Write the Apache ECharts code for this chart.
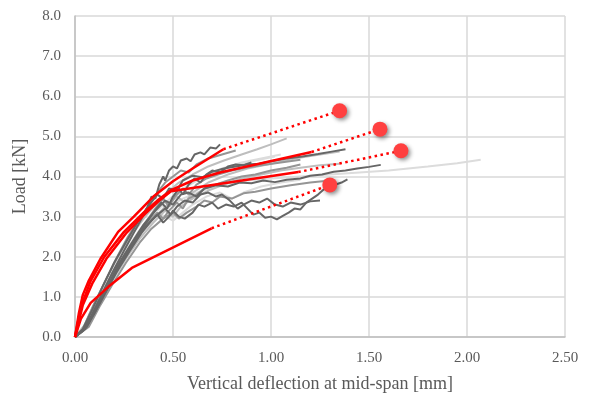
<!DOCTYPE html>
<html>
<head>
<meta charset="utf-8">
<script src="https://cdn.jsdelivr.net/npm/echarts@6/dist/echarts.min.js"></script>
<style>html,body{margin:0;padding:0;background:#fff;}#c{width:594px;height:401px;}</style>
</head>
<body>
<div id="c"></div>
<script>
// ---- Data (deflection [mm], load [kN]) ----
const xTicks = [0, 0.5, 1.0, 1.5, 2.0, 2.5];
const yTicks = [0, 1, 2, 3, 4, 5, 6, 7, 8];

// Experimental curves (grey)
const expDark1 = [[0,0],[0.04,0.15],[0.08,0.5],[0.13,1.0],[0.19,1.6],[0.25,2.15],[0.3,2.6],[0.34,2.95],[0.37,3.25],[0.39,3.5],[0.41,3.45],[0.43,3.8],[0.45,4.0],[0.46,3.9],[0.48,4.15],[0.5,4.25],[0.52,4.2],[0.54,4.4],[0.57,4.45],[0.59,4.38],[0.61,4.55],[0.64,4.6],[0.66,4.55],[0.69,4.72],[0.72,4.7],[0.74,4.8]];
const expDark2 = [[0,0],[0.05,0.2],[0.1,0.6],[0.15,1.05],[0.21,1.6],[0.28,2.15],[0.34,2.6],[0.39,2.9],[0.42,3.05],[0.45,2.85],[0.48,3.0],[0.5,3.15],[0.53,3.0],[0.56,2.95],[0.6,3.1],[0.63,3.3],[0.66,3.25],[0.7,3.35],[0.73,3.2],[0.77,3.3],[0.81,3.25],[0.85,3.35],[0.88,3.2],[0.91,3.05],[0.94,3.1],[0.97,2.97],[1.0,3.0],[1.03,2.93],[1.06,3.02],[1.09,3.1],[1.12,3.2],[1.15,3.18],[1.18,3.35],[1.21,3.45],[1.24,3.55],[1.27,3.68],[1.3,3.72],[1.33,3.8],[1.36,3.85],[1.39,3.93]];
const expDark3 = [[0,0],[0.06,0.25],[0.11,0.7],[0.17,1.25],[0.23,1.8],[0.3,2.35],[0.36,2.75],[0.41,3.0],[0.46,3.2],[0.49,3.05],[0.52,3.25],[0.56,3.4],[0.6,3.35],[0.64,3.55],[0.68,3.6],[0.72,3.5],[0.75,3.55],[0.79,3.4],[0.83,3.2],[0.86,3.3],[0.9,3.4],[0.94,3.35],[0.98,3.45],[1.02,3.3],[1.06,3.25],[1.1,3.35],[1.15,3.3],[1.2,3.38],[1.25,3.4]];
const expDark4 = [[0,0],[0.05,0.2],[0.1,0.65],[0.16,1.2],[0.22,1.8],[0.29,2.35],[0.35,2.8],[0.41,3.15],[0.46,3.4],[0.5,3.3],[0.54,3.55],[0.58,3.6],[0.62,3.5],[0.66,3.7],[0.72,3.78],[0.78,3.75],[0.84,3.85],[0.9,3.83],[0.96,3.9],[1.02,3.86],[1.08,3.92],[1.15,3.95],[1.2,4.02],[1.26,4.05],[1.32,4.12],[1.38,4.15],[1.44,4.2],[1.5,4.24],[1.56,4.29]];
const expDark5 = [[0,0],[0.04,0.2],[0.09,0.7],[0.14,1.25],[0.2,1.85],[0.27,2.45],[0.33,2.95],[0.38,3.3],[0.42,3.55],[0.45,3.45],[0.48,3.7],[0.52,3.65],[0.55,3.9],[0.6,4.02],[0.65,3.98],[0.7,4.12],[0.76,4.2],[0.82,4.25],[0.88,4.3],[0.94,4.32],[1.0,4.38],[1.08,4.45],[1.16,4.5],[1.24,4.56],[1.31,4.62],[1.38,4.68]];
const expDark6 = [[0,0],[0.05,0.2],[0.1,0.65],[0.16,1.2],[0.22,1.75],[0.29,2.3],[0.35,2.75],[0.4,3.1],[0.44,3.35],[0.47,3.2],[0.5,3.5],[0.53,3.7],[0.55,3.55],[0.58,3.8],[0.61,3.95],[0.64,3.85],[0.67,4.05],[0.7,4.15],[0.74,4.1],[0.78,4.25],[0.82,4.3],[0.86,4.28],[0.9,4.35]];
const expMid1 = [[0,0],[0.06,0.25],[0.12,0.8],[0.18,1.35],[0.25,1.95],[0.32,2.5],[0.38,2.9],[0.42,3.1],[0.45,2.95],[0.48,3.15],[0.52,3.35],[0.55,3.2],[0.58,3.45],[0.62,3.55],[0.66,3.7],[0.72,3.8],[0.78,3.9],[0.85,4.0],[0.92,4.05],[1.0,4.15],[1.08,4.22],[1.15,4.3]];
const expMid2 = [[0,0],[0.05,0.2],[0.11,0.75],[0.17,1.3],[0.23,1.85],[0.3,2.4],[0.36,2.85],[0.41,3.2],[0.45,3.45],[0.48,3.25],[0.51,3.5],[0.55,3.7],[0.58,3.55],[0.62,3.8],[0.67,3.95],[0.73,4.05],[0.8,4.15],[0.87,4.22],[0.95,4.28],[1.05,4.35],[1.15,4.42]];
const expMid3 = [[0,0],[0.07,0.25],[0.13,0.8],[0.19,1.3],[0.26,1.85],[0.33,2.35],[0.39,2.7],[0.45,2.95],[0.5,3.1],[0.53,2.95],[0.57,3.1],[0.62,3.25],[0.66,3.4],[0.7,3.35],[0.74,3.5],[0.8,3.45],[0.86,3.58],[0.92,3.62],[1.0,3.7],[1.1,3.78],[1.2,3.85],[1.3,3.9]];
const expMid4 = [[0,0],[0.04,0.2],[0.09,0.75],[0.15,1.35],[0.21,1.95],[0.27,2.5],[0.33,2.95],[0.38,3.3],[0.42,3.6],[0.46,3.85],[0.5,4.0],[0.54,4.15],[0.58,4.1],[0.62,4.3],[0.68,4.45],[0.75,4.55],[0.82,4.65]];
const expLight1 = [[0,0],[0.05,0.3],[0.1,0.85],[0.16,1.45],[0.22,2.0],[0.29,2.55],[0.35,2.95],[0.41,3.3],[0.47,3.6],[0.53,3.85],[0.6,4.05],[0.68,4.25],[0.76,4.4],[0.85,4.55],[0.93,4.68],[1.0,4.8],[1.08,4.95]];
const expLight2 = [[0,0],[0.06,0.25],[0.12,0.8],[0.19,1.4],[0.26,1.95],[0.33,2.45],[0.4,2.85],[0.46,3.15],[0.5,3.0],[0.54,3.25],[0.6,3.45],[0.68,3.65],[0.76,3.8],[0.85,3.95],[0.95,4.05],[1.05,4.15],[1.15,4.22],[1.25,4.28],[1.35,4.32]];
const expLight3 = [[0,0],[0.05,0.25],[0.11,0.85],[0.18,1.45],[0.25,2.0],[0.32,2.5],[0.39,2.9],[0.45,3.2],[0.52,3.5],[0.56,3.35],[0.6,3.6],[0.68,3.85],[0.78,4.05],[0.88,4.2],[1.0,4.32],[1.12,4.45],[1.25,4.55],[1.35,4.62]];
const expPale1 = [[0,0],[0.05,0.3],[0.1,0.8],[0.17,1.4],[0.24,1.95],[0.31,2.45],[0.38,2.85],[0.46,3.2],[0.55,3.45],[0.65,3.65],[0.75,3.8],[0.88,3.9],[1.0,3.95],[1.15,4.0],[1.3,4.05],[1.45,4.1],[1.6,4.15],[1.8,4.25],[1.95,4.33],[2.07,4.42]];
const expPale2 = [[0,0],[0.06,0.3],[0.12,0.9],[0.18,1.45],[0.25,2.05],[0.32,2.6],[0.38,3.0],[0.43,3.35],[0.47,3.2],[0.51,3.5],[0.57,3.75],[0.65,3.98],[0.75,4.2],[0.85,4.35],[0.95,4.45],[1.05,4.55]];
const expPale3 = [[0,0],[0.04,0.2],[0.09,0.7],[0.15,1.25],[0.22,1.8],[0.3,2.35],[0.37,2.75],[0.44,3.05],[0.5,2.9],[0.55,3.1],[0.6,3.3],[0.67,3.5],[0.74,3.6],[0.8,3.45],[0.86,3.6],[0.95,3.75],[1.05,3.85],[1.15,3.92]];
const expPale4 = [[0,0],[0.05,0.25],[0.1,0.75],[0.16,1.3],[0.23,1.9],[0.3,2.45],[0.37,2.9],[0.44,3.25],[0.52,3.6],[0.6,3.85],[0.7,4.08],[0.8,4.25],[0.92,4.4],[1.02,4.5]];

// Model curves (red)
const modelA = [[0,0],[0.02,0.6],[0.04,1.05],[0.07,1.4],[0.13,1.95],[0.22,2.62],[0.3,3.0],[0.4,3.5],[0.5,3.88],[0.6,4.2],[0.757,4.68]];
const modelB = [[0,0],[0.03,0.75],[0.08,1.4],[0.15,2.0],[0.25,2.62],[0.35,3.1],[0.42,3.4],[0.49,3.66],[0.6,3.9],[0.74,4.1],[1.207,4.61]];
const modelC = [[0,0],[0.04,0.8],[0.09,1.35],[0.16,1.95],[0.26,2.58],[0.36,3.08],[0.43,3.4],[0.49,3.63],[1.139,4.11]];
const modelD = [[0,0],[0.03,0.45],[0.08,0.85],[0.17,1.25],[0.29,1.72],[0.697,2.71]];

// Failure points (red dots)
const failure = [[1.35,5.64],[1.556,5.18],[1.663,4.64],[1.30,3.79]];

const greyGroups = [
  {color:'#dcdcdc', curves:[expPale1, expPale2, expPale3, expPale4]},
  {color:'#bebebe', curves:[expLight1, expLight2, expLight3]},
  {color:'#959595', curves:[expMid1, expMid2, expMid3, expMid4]},
  {color:'#666666', curves:[expDark1, expDark2, expDark3, expDark4, expDark5, expDark6]}
];
const models = [modelA, modelB, modelC, modelD];

const series = [];
greyGroups.forEach(g => g.curves.forEach(c => series.push({
  type:'line', data:c, symbol:'none', silent:true,
  lineStyle:{color:g.color, width:2}
})));
models.forEach((m, i) => {
  series.push({type:'line', data:m, symbol:'none', lineStyle:{color:'#ff0000', width:2.5}, z:5});
  series.push({type:'line', data:[m[m.length-1], failure[i]], symbol:'none',
    lineStyle:{color:'#ff0000', width:2.5, type:[2.5,3.5]}, z:5});
});
series.push({type:'scatter', data:failure, symbolSize:15, z:6,
  itemStyle:{color:'#ff4040', opacity:1, shadowBlur:4, shadowColor:'rgba(0,0,0,0.45)', shadowOffsetX:2, shadowOffsetY:2}});

const font = 'Liberation Serif, Times New Roman, serif';
const chart = echarts.init(document.getElementById('c'), null, {renderer:'canvas'});
chart.setOption({
  animation:false,
  backgroundColor:'#ffffff',
  grid:{left:75, right:29, top:16, bottom:64},
  xAxis:{
    type:'value', min:xTicks[0], max:xTicks[xTicks.length-1], interval:0.5,
    name:'Vertical deflection at mid-span [mm]', nameLocation:'middle', nameGap:38,
    nameTextStyle:{fontFamily:font, fontSize:18, color:'#595959'},
    axisLine:{show:true, lineStyle:{color:'#bfbfbf', width:1.5}},
    axisTick:{show:false},
    axisLabel:{fontFamily:font, fontSize:15, color:'#595959', margin:14, formatter:v=>v.toFixed(2)},
    splitLine:{show:true, lineStyle:{color:'#d9d9d9', width:1.5}}
  },
  yAxis:{
    type:'value', min:yTicks[0], max:yTicks[yTicks.length-1], interval:1,
    name:'Load [kN]', nameLocation:'middle', nameGap:46, nameRotate:90,
    nameTextStyle:{fontFamily:font, fontSize:18, color:'#595959'},
    axisLine:{show:true, lineStyle:{color:'#bfbfbf', width:1.5}},
    axisTick:{show:false},
    axisLabel:{fontFamily:font, fontSize:15, color:'#595959', margin:14, formatter:v=>v.toFixed(1)},
    splitLine:{show:true, lineStyle:{color:'#d9d9d9', width:1.5}}
  },
  series:series
});
</script>
</body>
</html>
